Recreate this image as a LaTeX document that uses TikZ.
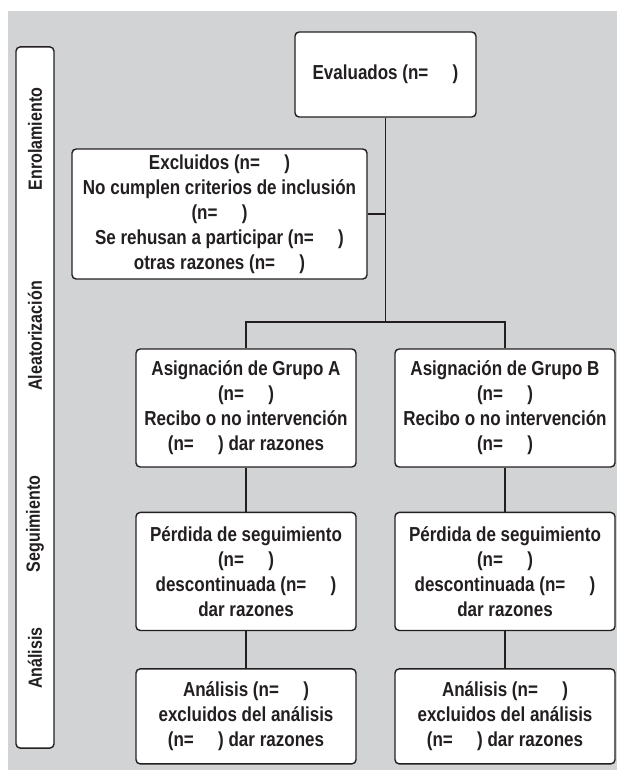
\documentclass[tikz,border=0pt]{standalone}
\usepackage{fontspec}
\setmainfont{Liberation Sans}[FakeStretch=0.84]
\usetikzlibrary{positioning, calc}
\definecolor{panelgray}{HTML}{D1D3D4}
\definecolor{inkgray}{HTML}{231F20}

\begin{document}
\begin{tikzpicture}[
    x=0.025cm, y=-0.025cm,
    stagebox/.style={rectangle, rounded corners=3pt, draw=inkgray, line width=1pt, fill=white, align=center, inner sep=0pt, text=inkgray, font=\fontsize{14.4}{17.8}\selectfont\bfseries},
    groupbox/.style={stagebox, minimum width=5.5cm, minimum height=2.95cm},
    phasebar/.style={rectangle, rounded corners=3pt, draw=inkgray, line width=1pt, fill=white, minimum width=0.95cm, minimum height=17.525cm},
    phaselabel/.style={rotate=90, text=inkgray, font=\fontsize{13.6}{15}\selectfont\bfseries},
    link/.style={draw=inkgray, line width=1pt}
]
    \useasboundingbox (0,0) rectangle (617,778);
    \fill[panelgray] (8,11) rectangle (617,770);

    % Phases
    \node[phasebar] (bar) at (35,397.5) {};
    \node[phaselabel] (enrol) at (35,139) {Enrolamiento};
    \node[phaselabel] (aleat) at (35,336) {Aleatorización};
    \node[phaselabel] (segui) at (35,524) {Seguimiento};
    \node[phaselabel] (anali) at (35,658) {Análisis};

    % Enrollment
    \node[stagebox, minimum width=4.525cm, minimum height=2.125cm] (eval) at (385.5,74.5) {Evaluados (n=\hspace{1.2em})};
    \node[stagebox, minimum width=7.375cm, minimum height=3.25cm] (excl) at (219.5,214) {Excluidos (n=\hspace{1.2em})\\No cumplen criterios de inclusión\\(n=\hspace{1.2em})\\Se rehusan a participar (n=\hspace{1.2em})\\otras razones (n=\hspace{1.2em})};

    % Groups
    \node[groupbox] (grpA) at (246,408) {Asignación de Grupo A\\(n=\hspace{1.2em})\\Recibo o no intervención\\(n=\hspace{1.2em}) dar razones};
    \node[groupbox] (grpB) at (505,408) {Asignación de Grupo B\\(n=\hspace{1.2em})\\Recibo o no intervención\\(n=\hspace{1.2em})};

    % Follow-up
    \node[groupbox, below=1.1cm of grpA] (lostA) {Pérdida de seguimiento\\(n=\hspace{1.2em})\\descontinuada (n=\hspace{1.2em})\\dar razones};
    \node[groupbox, below=1.1cm of grpB] (lostB) {Pérdida de seguimiento\\(n=\hspace{1.2em})\\descontinuada (n=\hspace{1.2em})\\dar razones};

    % Analysis
    \node[groupbox, minimum height=2.375cm, below=0.925cm of lostA] (anaA) {Análisis (n=\hspace{1.2em})\\excluidos del análisis\\(n=\hspace{1.2em}) dar razones};
    \node[groupbox, minimum height=2.375cm, below=0.925cm of lostB] (anaB) {Análisis (n=\hspace{1.2em})\\excluidos del análisis\\(n=\hspace{1.2em}) dar razones};

    % Lines
    \coordinate (split) at (eval.south |- 0,322);
    \draw[link] (eval) -- (split);
    \draw[link] (excl.east) -- (excl.east -| eval.south);
    \draw[link] (split) -| (grpA);
    \draw[link] (split) -| (grpB);
    \draw[link] (grpA) -- (lostA);
    \draw[link] (grpB) -- (lostB);
    \draw[link] (lostA) -- (anaA);
    \draw[link] (lostB) -- (anaB);
\end{tikzpicture}
\end{document}
